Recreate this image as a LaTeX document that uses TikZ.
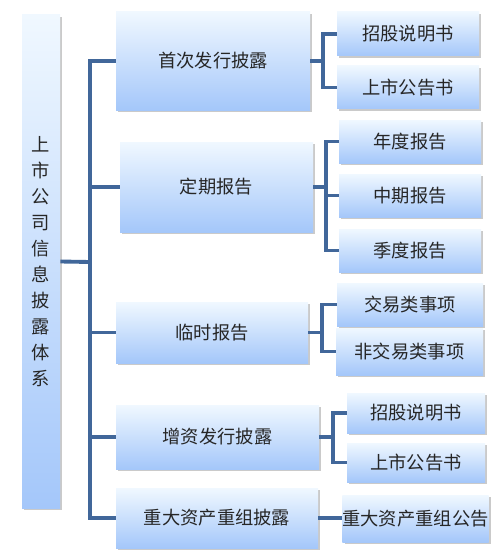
\documentclass[tikz,border=0pt]{standalone}
\usepackage{fontspec}
\newfontfamily\cjk{Noto Sans CJK SC}
\usetikzlibrary{shadows}
\definecolor{linkblue}{RGB}{65,103,154}
\definecolor{boxtop}{RGB}{240,248,255}
\definecolor{boxbottom}{RGB}{164,199,250}

\begin{document}
\begin{tikzpicture}[x=0.02cm,y=-0.02cm,font=\cjk\fontsize{10.4}{12}\selectfont,
    box/.style={rectangle,top color=boxtop,bottom color=boxbottom,text=black!85,
      inner sep=0pt,drop shadow={shadow xshift=1.2pt,shadow yshift=-1.4pt,opacity=.35,fill=black!60}},
    link/.style={draw=linkblue,line width=2.2pt}]
  \useasboundingbox (0,0) rectangle (495,554);
  % root
  \node[box,minimum width=38*0.02cm,minimum height=493*0.02cm,align=center,
    font=\cjk\fontsize{10.4}{14.8}\selectfont] (root) at (41,261.5)
    {上\\市\\公\\司\\信\\息\\披\\露\\体\\系};
  % first level
  \node[box,minimum width=194*0.02cm,minimum height=98*0.02cm] (ipo) at (213,61) {首次发行披露};
  \node[box,minimum width=193*0.02cm,minimum height=90*0.02cm] (periodic) at (216.5,187) {定期报告};
  \node[box,minimum width=192*0.02cm,minimum height=61*0.02cm] (interim) at (212,332.5) {临时报告};
  \node[box,minimum width=203*0.02cm,minimum height=64*0.02cm] (seo) at (217.5,437) {增资发行披露};
  \node[box,minimum width=202*0.02cm,minimum height=60*0.02cm] (restruct) at (217,518) {重大资产重组披露};
  % second level
  \node[box,minimum width=142*0.02cm,minimum height=44*0.02cm] (ipoA) at (408,34) {招股说明书};
  \node[box,minimum width=142*0.02cm,minimum height=43*0.02cm] (ipoB) at (408,87.5) {上市公告书};
  \node[box,minimum width=142*0.02cm,minimum height=43*0.02cm] (perA) at (410,141.5) {年度报告};
  \node[box,minimum width=142*0.02cm,minimum height=43*0.02cm] (perB) at (410,195.5) {中期报告};
  \node[box,minimum width=142*0.02cm,minimum height=43*0.02cm] (perC) at (410,250.5) {季度报告};
  \node[box,minimum width=146*0.02cm,minimum height=43*0.02cm] (intA) at (410,304.5) {交易类事项};
  \node[box,minimum width=147*0.02cm,minimum height=47*0.02cm] (intB) at (409.5,351.5) {非交易类事项};
  \node[box,minimum width=138*0.02cm,minimum height=40*0.02cm] (seoA) at (416,413) {招股说明书};
  \node[box,minimum width=138*0.02cm,minimum height=39*0.02cm] (seoB) at (416,462.5) {上市公告书};
  \node[box,minimum width=145*0.02cm,minimum height=47*0.02cm] (resA) at (415.5,518.5) {重大资产重组公告};
  % connectors
  \coordinate (trunk) at (90,262);
  \draw[link] (root.east) -- (trunk);
  \foreach \n in {ipo,periodic,interim,seo,restruct}
    \draw[link] (trunk) |- (\n.west);
  \draw[link] (ipo.east) -- ++(13,0) |- (ipoA.west);
  \draw[link] (ipo.east) ++(13,0) |- (ipoB.west);
  \draw[link] (periodic.east) -- ++(13,0) |- (perA.west);
  \draw[link] (periodic.east) ++(13,0) |- (perB.west);
  \draw[link] (periodic.east) ++(13,0) |- (perC.west);
  \draw[link] (interim.east) -- ++(14,0) |- (intA.west);
  \draw[link] (interim.east) ++(14,0) |- (intB.west);
  \draw[link] (seo.east) -- ++(14,0) |- (seoA.west);
  \draw[link] (seo.east) ++(14,0) |- (seoB.west);
  \draw[link] (restruct.east) -- (restruct.east -| resA.west);
\end{tikzpicture}
\end{document}
